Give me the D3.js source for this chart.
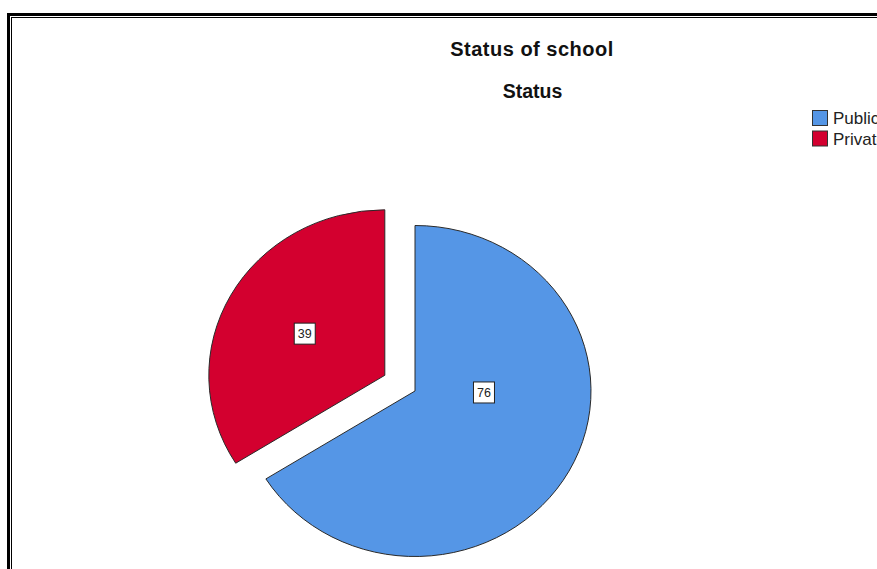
<!DOCTYPE html>
<html>
<head>
<meta charset="utf-8">
<script src="https://cdn.jsdelivr.net/npm/d3@7/dist/d3.min.js"></script>
<style>
  html, body { margin: 0; padding: 0; background: #fff; }
  svg { display: block; }
  text { font-family: "Liberation Sans", Arial, sans-serif; }
</style>
</head>
<body>
<svg id="chart" width="877" height="569"></svg>
<script>
// ---- data ----
const categories = ["Public", "Private"];
const counts = [76, 39];
const colors = ["#5596e6", "#d3002f"];
const exploded = [false, true];
const chartTitle = "Status of school";
const pieTitle = "Status";

// ---- layout ----
const W = 877, H = 569;
const svg = d3.select("#chart");

// double frame (extends past right/bottom edges)
svg.append("rect").attr("x", 8.5).attr("y", 14.5).attr("width", 1000).attr("height", 1000)
  .attr("fill", "none").attr("stroke", "#000").attr("stroke-width", 3);
svg.append("rect").attr("x", 11.5).attr("y", 17.5).attr("width", 1000).attr("height", 1000)
  .attr("fill", "none").attr("stroke", "#000").attr("stroke-width", 1);

// titles
svg.append("text").attr("x", 532).attr("y", 56).attr("text-anchor", "middle")
  .attr("font-size", 20).attr("font-weight", "bold").attr("letter-spacing", 0.5)
  .attr("fill", "#111").text(chartTitle);
svg.append("text").attr("x", 532.5).attr("y", 98).attr("text-anchor", "middle")
  .attr("font-size", 19.5).attr("font-weight", "bold").attr("fill", "#111").text(pieTitle);

// pie geometry
const cx = 415, cy = 391, rx = 176, ry = 165.5;
const explodeFrac = 0.196;
const pie = d3.pie().sort(null).value(d => d).startAngle(0).endAngle(2 * Math.PI);
const arcs = pie(counts);
const arc = d3.arc().innerRadius(0).outerRadius(rx);

const g = svg.append("g").attr("transform", `translate(${cx},${cy}) scale(1,${ry / rx})`);
g.selectAll("path").data(arcs).enter().append("path")
  .attr("d", arc)
  .attr("fill", (d, i) => colors[i])
  .attr("stroke", "#2a2a2a")
  .attr("stroke-width", 1)
  .attr("vector-effect", "non-scaling-stroke")
  .attr("transform", (d, i) => {
    if (!exploded[i]) return null;
    const m = (d.startAngle + d.endAngle) / 2;
    return `translate(${Math.sin(m) * rx * explodeFrac},${-Math.cos(m) * rx * explodeFrac})`;
  });

// value labels (boxed)
const labelPlacement = [{ angleDeg: 91.3, frac: 0.392 }, { angleDeg: null, frac: 0.52 }];
arcs.forEach((d, i) => {
  const m = (d.startAngle + d.endAngle) / 2;
  let ox = 0, oy = 0;
  if (exploded[i]) { ox = Math.sin(m) * explodeFrac; oy = -Math.cos(m) * explodeFrac; }
  const a = labelPlacement[i].angleDeg == null ? m : labelPlacement[i].angleDeg * Math.PI / 180;
  const f = labelPlacement[i].frac;
  const lx = cx + (Math.sin(a) * f + ox) * rx;
  const ly = cy + (-Math.cos(a) * f + oy) * ry;
  const lg = svg.append("g").attr("transform", `translate(${lx},${ly})`);
  lg.append("rect").attr("x", -10.5).attr("y", -10.5).attr("width", 21).attr("height", 21)
    .attr("fill", "#fff").attr("stroke", "#222").attr("stroke-width", 1);
  lg.append("text").attr("x", 0).attr("y", 4.5).attr("text-anchor", "middle")
    .attr("font-size", 12.5).attr("fill", "#222").text(counts[i]);
});

// legend
const leg = svg.append("g").attr("transform", "translate(812,110)");
categories.forEach((c, i) => {
  const row = leg.append("g").attr("transform", `translate(0,${i * 20.5})`);
  row.append("rect").attr("x", 0.5).attr("y", 0.5).attr("width", 15).attr("height", 15)
    .attr("fill", colors[i]).attr("stroke", "#333").attr("stroke-width", 1);
  row.append("text").attr("x", 21).attr("y", 14).attr("font-size", 17).attr("fill", "#222").text(c);
});
</script>
</body>
</html>
